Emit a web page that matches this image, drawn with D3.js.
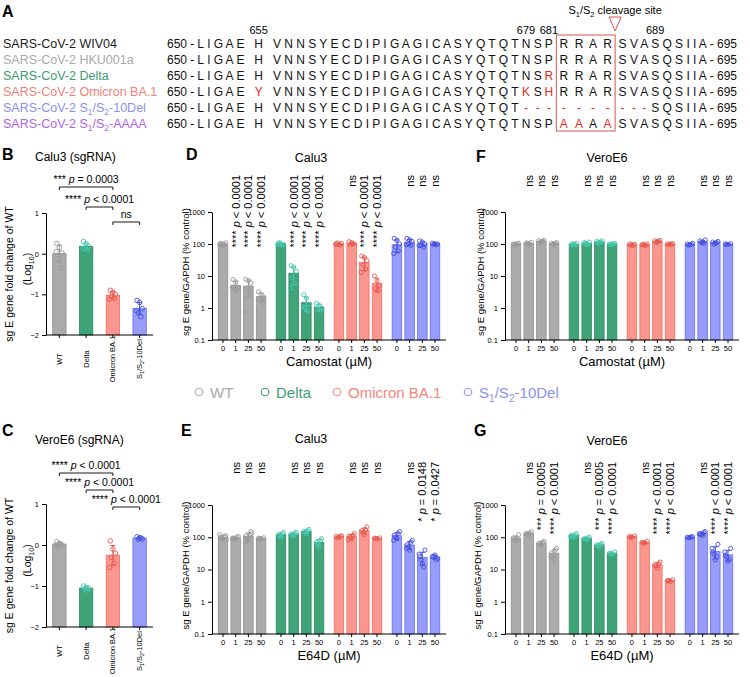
<!DOCTYPE html>
<html><head><meta charset="utf-8">
<script src="https://cdn.jsdelivr.net/npm/d3@7"></script>
<style>body{margin:0;background:#fff} svg{font-family:"Liberation Sans",Arial,Helvetica,sans-serif} text{white-space:pre}</style>
</head><body><svg id="c" width="750" height="677"></svg>
<script>
// ================= DATA =================
const seqNames = ["SARS-CoV-2 WIV04","SARS-CoV-2 HKU001a","SARS-CoV-2 Delta","SARS-CoV-2 Omicron BA.1","SARS-CoV-2 S1/S2-10Del","SARS-CoV-2 S1/S2-AAAA"];
const seqWT = "LIGAEHVNNSYECDIPIGAGICASYQTQTNSPRRARSVASQSIIA";
const seqRows = [
 "LIGAEHVNNSYECDIPIGAGICASYQTQTNSPRRARSVASQSIIA",
 "LIGAEHVNNSYECDIPIGAGICASYQTQTNSPRRARSVASQSIIA",
 "LIGAEHVNNSYECDIPIGAGICASYQTQTNSRRRARSVASQSIIA",
 "LIGAEYVNNSYECDIPIGAGICASYQTQTKSHRRARSVASQSIIA",
 "LIGAEHVNNSYECDIPIGAGICASYQTQT----------SQSIIA",
 "LIGAEHVNNSYECDIPIGAGICASYQTQTNSPAAAASVASQSIIA"];
const seqStart = 650, seqEnd = 695;
const posMarks = [655, 679, 681, 689];

const groupNames = ["WT","Delta","Omicron BA.1","S1/S2-10Del"];
const doseLabels = ["0","1","25","50"];
const logTickValues = [0.1, 1, 10, 100, 1000];
const sgTickValues = [-2, -1, 0, 1];

// B: Calu3 (sgRNA), log10 fold change of WT
const bPoints = [[0.25,0.15,0.02,-0.12,-0.35,0.05],[0.3,0.24,0.18,0.14,0.1,0.12],[-0.9,-0.95,-1.0,-1.05,-1.1,-1.12],[-1.15,-1.2,-1.35,-1.45,-1.55,-1.4]];
const bComparisons = [[0,2,"*** p = 0.0003"],[1,2,"**** p < 0.0001"],[2,3,"ns"]];
// C: VeroE6 (sgRNA)
const cPoints = [[0.08,0.04,0.0,-0.02,0.03,0.0],[-1.0,-1.03,-1.05,-1.08,-1.1],[0.1,-0.1,-0.2,-0.3,-0.45,-0.55],[0.2,0.18,0.15,0.14,0.17]];
const cComparisons = [[0,2,"**** p < 0.0001"],[1,2,"**** p < 0.0001"],[2,3,"**** p < 0.0001"]];

// D: Calu3, Camostat (% control)
const dPoints = [
 [[100,92,108,104,96,100],[7.8,6.5,4.5,3.8,3.5,4.5],[7.8,7.2,6.0,4.2,3.0,0.75],[3.2,2.6,2.2,1.8,1.5]],
 [[105,100,95,110,92,98],[21,19,14,9,6,4.2],[2.6,2.0,1.3,1.0,0.8,1.1],[1.4,1.2,1.0,0.9,0.85]],
 [[100,96,104,108,93,99],[118,110,100,95,102],[42,38,30,22,16,13],[10,7,5,4,3.5]],
 [[150,130,100,80,60,50],[150,135,120,100,90,95],[125,115,100,90,80,90],[105,102,100,98,95]]];
const dAnn = [["","**** p < 0.0001","**** p < 0.0001","**** p < 0.0001"],["","**** p < 0.0001","**** p < 0.0001","**** p < 0.0001"],["","ns","**** p < 0.0001","**** p < 0.0001"],["","ns","ns","ns"]];
// F: VeroE6, Camostat
const fPoints = [
 [[100,95,105,98,102],[108,100,112,104,98],[125,118,130,110,122],[105,100,110,98,104]],
 [[95,100,105,98,92],[110,100,115,105,96],[120,112,125,108,115],[100,98,104,96,102]],
 [[95,92,98,100,90],[95,90,100,98,92],[125,118,130,112,120],[100,98,102,96,100]],
 [[100,95,105,92,98],[125,115,135,110,105],[115,105,120,100,110],[100,98,102,97]]];
const fAnn = [["","ns","ns","ns"],["","ns","ns","ns"],["","ns","ns","ns"],["","ns","ns","ns"]];
// E: Calu3, E64D
const ePoints = [
 [[100,90,110,95,105,120,85],[95,88,105,92,100,90],[110,95,150,80,120,70,130],[93,90,96,92]],
 [[120,100,140,110,130],[125,110,140,115,135],[150,130,175,140,160],[70,50,90,60,80]],
 [[105,100,110,95,108],[108,90,130,100,115,85],[160,120,210,140,170],[93,90,95,92]],
 [[115,90,150,100,130,80],[58,40,80,50,70,45],[26,15,40,20,12,30],[25,28,22,26,20]]];
const eAnn = [["","ns","ns","ns"],["","ns","ns","ns"],["","ns","ns","ns"],["","ns","* p = 0.0148","* p = 0.0427"]];
// G: VeroE6, E64D
const gPoints = [
 [[95,80,120,90,85],[130,115,150,125,135],[65,55,75,60,70],[32,22,45,28,40,25]],
 [[115,100,130,110,120,105],[90,85,100,88,95],[58,50,65,55,60],[32,30,35,31]],
 [[105,100,110,102],[70,65,75,68],[14,11,17,13,15],[4.5,4.2,4.8,4.6]],
 [[100,98,102,96,104],[130,115,150,120,140,125],[35,20,60,30,25,45],[28,18,45,25,20,35]]];
const gAnn = [["","ns","*** p = 0.0005","**** p < 0.0001"],["","ns","*** p = 0.0005","**** p < 0.0001"],["","ns","**** p < 0.0001","**** p < 0.0001"],["","ns","**** p < 0.0001","**** p < 0.0001"]];

// ================= STYLE =================
const groupFill = ["#ababab","#3fa478","#f9968d","#969cf7"];
const groupStroke = ["#8f8f8f","#2f8a62","#ef6f66","#6870ee"];
const groupPoint = ["#9a9a9a","#45c7ae","#e85a50","#4650e2"];
const legendColor = ["#a8a8a8","#3c9d71","#f4857d","#8b91f1"];
const nameColors = ["#1a1a1a","#a8a8a8","#3d9a6e","#f07f78","#8a8ff0","#b063e6"];
const RED = "#e42a20";

const svg = d3.select("#c");

function setLabel(sel, str, fs){
  const m = str.indexOf("S1/S2");
  if(m<0){ sel.text(str); return; }
  const pre = str.slice(0,m), post = str.slice(m+5), sh = fs*0.28, sf = fs*0.68;
  if(pre) sel.append("tspan").text(pre);
  sel.append("tspan").text("S");
  sel.append("tspan").attr("dy",sh).attr("font-size",sf).text("1");
  sel.append("tspan").attr("dy",-sh).text("/S");
  sel.append("tspan").attr("dy",sh).attr("font-size",sf).text("2");
  sel.append("tspan").attr("dy",-sh).text(post);
}
function annText(sel, s){
  const i = s.indexOf("p ");
  if(i<0){ sel.text(s); return; }
  sel.append("tspan").text(s.slice(0,i));
  sel.append("tspan").attr("font-style","italic").text("p");
  sel.append("tspan").text(s.slice(i+1));
}
const mean = a => d3.mean(a);
const sd = a => d3.deviation(a) || 0;
const jit = [-2.6,0,2.6,-1.3,1.3,-3.2,3.2];

// ================= PANEL A =================
const A = svg.append("g");
A.append("text").attr("x",2).attr("y",17).attr("font-weight","bold").attr("font-size",16).text("A");
const seqFs = 12;
const gapAfter = i => ((i===4 || i===5) ? 3 : (i>=31 && i<=35) ? 2 : 1);
let tpl = seqStart + " - ", resIdx = [];
for(let i=0;i<seqWT.length;i++){ resIdx.push(tpl.length); tpl += seqWT[i]; if(i<seqWT.length-1) tpl += " ".repeat(gapAfter(i)); }
tpl += " - " + seqEnd;
const tplNode = A.append("text").attr("x",0).attr("y",-50).attr("font-size",seqFs).text(tpl).node();
const rawC = [];
for(let k=0;k<tpl.length;k++){ const e = tplNode.getExtentOfChar(k); rawC.push(e.x + e.width/2); }
const lastE = tplNode.getExtentOfChar(tpl.length-1);
const xSeq = d3.scaleLinear().domain([0, lastE.x+lastE.width]).range([167, 737]);
d3.select(tplNode).remove();
const rowY = d3.scaleLinear().domain([0,5]).range([47.5,127.5]);
seqRows.forEach((row,r)=>{
  const t = A.append("text").attr("x",3).attr("y",rowY(r)).attr("font-size",12.5).attr("fill",nameColors[r]);
  setLabel(t, seqNames[r], 12.5);
  for(let k=0;k<tpl.length;k++){
    let ch = tpl[k]; if(ch===" ") continue;
    let col = "#111";
    const ri = resIdx.indexOf(k);
    if(ri>=0){ ch = row[ri]; if(ch!==seqWT[ri]) col = RED; }
    A.append("text").attr("x",xSeq(rawC[k])).attr("y",rowY(r)).attr("text-anchor","middle")
     .attr("font-size",seqFs).attr("fill",col).text(ch);
  }
});
posMarks.forEach(p=>{
  A.append("text").attr("x",xSeq(rawC[resIdx[p-seqStart]])).attr("y",34).attr("text-anchor","middle").attr("font-size",11).text(p);
});
const bx0 = (xSeq(rawC[resIdx[31]])+xSeq(rawC[resIdx[32]]))/2;
const bx1 = (xSeq(rawC[resIdx[35]])+xSeq(rawC[resIdx[36]]))/2;
A.append("rect").attr("x",bx0).attr("y",35).attr("width",bx1-bx0).attr("height",96).attr("fill","none").attr("stroke","#d9534f").attr("stroke-width",1);
A.append("path").attr("d",`M${bx1-6},17L${bx1+6},17L${bx1},31Z`).attr("fill","#fff").attr("stroke","#d9534f").attr("stroke-width",1);
setLabel(A.append("text").attr("x",bx1).attr("y",14).attr("text-anchor","middle").attr("font-size",11), "S1/S2 cleavage site", 11);

// ================= PANELS B, C =================
function sgPanel(cfg){
  const g = svg.append("g");
  const y = d3.scaleLinear().domain([-2,1]).range([cfg.yBot, cfg.yTop]);
  const x = d3.scaleBand().domain(d3.range(4)).range([46,153]).paddingInner(0.5).paddingOuter(0.25);
  const cxf = i => x(i)+x.bandwidth()/2;
  g.append("text").attr("x",2).attr("y",cfg.labelY).attr("font-weight","bold").attr("font-size",16).text(cfg.label);
  g.append("text").attr("x",35).attr("y",cfg.titleY).attr("font-size",12).text(cfg.title);
  cfg.pts.forEach((p,i)=>{
    const m = mean(p), s = sd(p);
    g.append("rect").attr("x",x(i)).attr("width",x.bandwidth()).attr("y",y(m)).attr("height",cfg.yBot-y(m))
     .attr("fill",groupFill[i]).attr("stroke",groupStroke[i]).attr("stroke-width",0.8);
    const c = cxf(i);
    g.append("path").attr("d",`M${c},${y(m+s)}V${y(m-s)}M${c-2.5},${y(m+s)}H${c+2.5}M${c-2.5},${y(m-s)}H${c+2.5}`).attr("stroke",groupPoint[i]).attr("stroke-width",1).attr("fill","none");
    p.forEach((v,j)=> g.append("circle").attr("cx",c+jit[j%7]).attr("cy",y(v)).attr("r",2.3).attr("fill","none").attr("stroke",groupPoint[i]).attr("stroke-width",0.9));
  });
  const ax = g.append("g").attr("transform",`translate(46,0)`).call(d3.axisLeft(y).tickValues(sgTickValues).tickFormat(d3.format("d")).tickSize(4).tickSizeOuter(0));
  ax.selectAll("text").attr("font-size",7.5).attr("font-family",null);
  g.append("path").attr("d",`M46,${cfg.yBot}H153`).attr("stroke","#000");
  groupNames.forEach((n,i)=>{
    const c = cxf(i);
    g.append("path").attr("d",`M${c},${cfg.yBot}v3`).attr("stroke","#000");
    const t = g.append("text").attr("transform",`translate(${c+2.6},${cfg.yBot+24}) rotate(-90)`).attr("text-anchor","middle").attr("font-size",7.5);
    setLabel(t, n, 7.5);
  });
  const ym = (cfg.yTop+cfg.yBot)/2;
  g.append("text").attr("transform",`translate(13,${ym}) rotate(-90)`).attr("text-anchor","middle").attr("font-size",10.5).text("sg E gene fold change of WT");
  const lt = g.append("text").attr("transform",`translate(31,${ym-5}) rotate(-90)`).attr("text-anchor","middle").attr("font-size",10.5);
  lt.append("tspan").text("(Log"); lt.append("tspan").attr("dy",2.5).attr("font-size",7).text("10"); lt.append("tspan").attr("dy",-2.5).text(")");
  cfg.comps.forEach((cp,k)=>{
    const l = cxf(cp[0]), r = cxf(cp[1]), by = cfg.bracketY[k];
    g.append("path").attr("d",`M${l},${by+3}V${by}H${r}V${by+3}`).attr("fill","none").attr("stroke","#000").attr("stroke-width",0.9);
    annText(g.append("text").attr("x",(l+r)/2).attr("y",by-4).attr("text-anchor","middle").attr("font-size",10.5), cp[2]);
  });
}
sgPanel({label:"B",labelY:160,title:"Calu3 (sgRNA)",titleY:161,yTop:213,yBot:335,pts:bPoints,comps:bComparisons,bracketY:[187,207,222]});
sgPanel({label:"C",labelY:436,title:"VeroE6 (sgRNA)",titleY:444,yTop:504,yBot:627,pts:cPoints,comps:cComparisons,bracketY:[473,490,507]});

// ================= PANELS D, E, F, G =================
function logPanel(cfg){
  const g = svg.append("g");
  const y = d3.scaleLog().domain([0.1,1000]).range([cfg.yBot, cfg.yTop]);
  const xo = d3.scaleBand().domain(d3.range(4)).range([cfg.x0, cfg.x0+234]).paddingInner(0.124).paddingOuter(0.08);
  const xi = d3.scaleBand().domain(d3.range(4)).range([0, xo.bandwidth()]).paddingInner(0.25).paddingOuter(0.125);
  const cxf = (gi,di) => xo(gi)+xi(di)+xi.bandwidth()/2;
  g.append("text").attr("x",cfg.labelX).attr("y",cfg.labelY).attr("font-weight","bold").attr("font-size",16).text(cfg.label);
  g.append("text").attr("x",cfg.titleX).attr("y",cfg.titleY).attr("text-anchor","middle").attr("font-size",12.5).text(cfg.title);
  cfg.pts.forEach((grp,gi)=>grp.forEach((p,di)=>{
    const m = mean(p), s = sd(p), c = cxf(gi,di), w = xi.bandwidth();
    g.append("rect").attr("x",c-w/2).attr("width",w).attr("y",y(m)).attr("height",cfg.yBot-y(m))
     .attr("fill",groupFill[gi]).attr("stroke",groupStroke[gi]).attr("stroke-width",0.8);
    const hi = y(m+s), lo = (m-s)>0.1 ? y(m-s) : cfg.yBot;
    g.append("path").attr("d",`M${c},${hi}V${lo}M${c-2.5},${hi}H${c+2.5}M${c-2.5},${lo}H${c+2.5}`).attr("stroke",groupPoint[gi]).attr("stroke-width",1).attr("fill","none");
    p.forEach((v,j)=> g.append("circle").attr("cx",c+jit[j%7]).attr("cy",y(v)).attr("r",2.1).attr("fill","none").attr("stroke",groupPoint[gi]).attr("stroke-width",0.9));
    const a = cfg.ann[gi][di];
    if(a) annText(g.append("text").attr("transform",`translate(${c+4},${cfg.annTop}) rotate(-90)`).attr("text-anchor","end").attr("font-size",11), a);
    g.append("path").attr("d",`M${c},${cfg.yBot}v3`).attr("stroke","#000");
    g.append("text").attr("x",c).attr("y",cfg.yBot+11).attr("text-anchor","middle").attr("font-size",7.5).text(doseLabels[di]);
  }));
  const ax = g.append("g").attr("transform",`translate(${cfg.x0},0)`).call(d3.axisLeft(y).tickValues(logTickValues).tickFormat(d3.format("~g")).tickSize(4).tickSizeOuter(0));
  ax.selectAll("text").attr("font-size",7.5).attr("font-family",null);
  g.append("path").attr("d",`M${cfg.x0},${cfg.yBot}H${cfg.x0+234}`).attr("stroke","#000");
  g.append("text").attr("transform",`translate(${cfg.yTitleX},${(cfg.yTop+cfg.yBot)/2-4}) rotate(-90)`).attr("text-anchor","middle").attr("font-size",9.5).text("sg E gene/GAPDH (% control)");
  g.append("text").attr("x",cfg.x0+117).attr("y",cfg.yBot+26).attr("text-anchor","middle").attr("font-size",13).text(cfg.xTitle);
}
logPanel({label:"D",labelX:186,labelY:160,title:"Calu3",titleX:311,titleY:162,x0:212,yTop:212,yBot:340,pts:dPoints,ann:dAnn,annTop:175,yTitleX:189,xTitle:"Camostat (µM)"});
logPanel({label:"F",labelX:476,labelY:162,title:"VeroE6",titleX:607,titleY:162,x0:505,yTop:212,yBot:340,pts:fPoints,ann:fAnn,annTop:175,yTitleX:484,xTitle:"Camostat (µM)"});
logPanel({label:"E",labelX:181,labelY:436,title:"Calu3",titleX:311,titleY:443,x0:212,yTop:505,yBot:634,pts:ePoints,ann:eAnn,annTop:462,yTitleX:189,xTitle:"E64D (µM)"});
logPanel({label:"G",labelX:474,labelY:436,title:"VeroE6",titleX:607,titleY:445,x0:505,yTop:505,yBot:634,pts:gPoints,ann:gAnn,annTop:462,yTitleX:481,xTitle:"E64D (µM)"});

// ================= LEGEND =================
const legX = [199, 265, 337, 468];
groupNames.forEach((n,i)=>{
  svg.append("circle").attr("cx",legX[i]).attr("cy",392).attr("r",3.8).attr("fill","none").attr("stroke",legendColor[i]).attr("stroke-width",1.1);
  const t = svg.append("text").attr("x",legX[i]+11).attr("y",397.5).attr("font-size",15).attr("fill",legendColor[i]);
  setLabel(t, n, 15);
});
</script></body></html>
